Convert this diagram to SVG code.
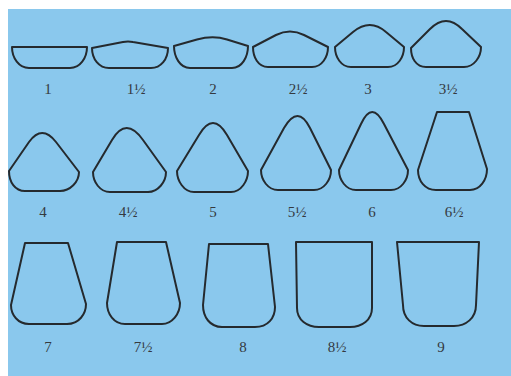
<svg xmlns="http://www.w3.org/2000/svg" width="511" height="376" viewBox="0 0 511 376">
<style>
.sh{fill:none;stroke:#252a2e;stroke-width:2;stroke-linejoin:round}
.lb{font-family:"Liberation Serif","Times New Roman",serif;font-size:15px;fill:#353a3f;text-anchor:middle}
</style>
<rect x="0" y="0" width="511" height="376" fill="#ffffff"/>
<rect x="8" y="9" width="503" height="367" fill="#8ac8ed"/>
<g id="s1"><path class="sh" d="M12,47 L87,47 C87,58 80,68 70,68 L29,68 C19,68 12,58 12,47 Z"/><text class="lb" x="48" y="94">1</text></g>
<g id="s1h"><path class="sh" d="M92,48 L123,42 Q128,41 133,42 L168,48 C168,59 161,68 151,68 L109,68 C99,68 92,59 92,48 Z"/><text class="lb" x="136" y="94">1½</text></g>
<g id="s2"><path class="sh" d="M174,46 L197,39.5 Q213,35 227,39.5 L248,46 C248,57 242,68 232,68 L190,68 C180,68 174,57 174,46 Z"/><text class="lb" x="213" y="94">2</text></g>
<g id="s2h"><path class="sh" d="M253,47 L276,35 Q290,28 304,35 L328,47 C328,57 322,67 312,67 L268,67 C258,67 253,57 253,47 Z"/><text class="lb" x="298" y="94">2½</text></g>
<g id="s3"><path class="sh" d="M335,47 L353,32 Q370,18 386,32 L404,47 C404,57 398,67 388,67 L351,67 C341,67 335,57 335,47 Z"/><text class="lb" x="368" y="94">3</text></g>
<g id="s3h"><path class="sh" d="M411,48 L430,29 Q446,13 462,29 L481,47 C481,57 474,67 464,67 L426,67 C416,67 411,58 411,48 Z"/><text class="lb" x="448" y="94">3½</text></g>
<g id="s4"><path class="sh" d="M9,171 L29,142 Q42,124 56,142 L79,172 C79,182 70,191 60,191 L25,191 C15,191 9,182 9,171 Z"/><text class="lb" x="43" y="217">4</text></g>
<g id="s4h"><path class="sh" d="M93,172 L112,140 Q126,116 143,140 L166,172 C166,182 158,192 148,192 L110,192 C100,192 93,182 93,172 Z"/><text class="lb" x="128" y="217">4½</text></g>
<g id="s5"><path class="sh" d="M177,171 L199,135 Q213,111 227,135 L248,171 C248,181 241,192 231,192 L194,192 C184,192 177,181 177,171 Z"/><text class="lb" x="213" y="217">5</text></g>
<g id="s5h"><path class="sh" d="M261,170 L284,128 Q298,104 310,128 L331,170 C331,180 324,190 314,190 L278,190 C268,190 261,180 261,170 Z"/><text class="lb" x="297" y="217">5½</text></g>
<g id="s6"><path class="sh" d="M339,170 L361,124 Q372,100 384,124 L408,170 C408,180 401,190 391,190 L356,190 C346,190 339,180 339,170 Z"/><text class="lb" x="372" y="217">6</text></g>
<g id="s6h"><path class="sh" d="M418,170 L437,112 L469,112 L487,169 C487,180 480,190 470,190 L436,190 C425,190 418,181 418,170 Z"/><text class="lb" x="454" y="217">6½</text></g>
<g id="s7"><path class="sh" d="M11,305 L25,243 L68,243 L86,304 C86,314 79,324 67,324 L29,324 C18,324 11,315 11,305 Z"/><text class="lb" x="48" y="352">7</text></g>
<g id="s7h"><path class="sh" d="M107,303 L117,242 L166,242 L180,303 C180,314 172,324 162,324 L125,324 C114,324 107,314 107,303 Z"/><text class="lb" x="143" y="352">7½</text></g>
<g id="s8"><path class="sh" d="M203,305 L209,244 L268,244 L275,307 C275,318 268,327 255,327 L222,327 C210,327 203,317 203,305 Z"/><text class="lb" x="243" y="352">8</text></g>
<g id="s8h"><path class="sh" d="M297,308 L296,242 L372,242 L372,308 C372,320 362,327 350,327 L319,327 C307,327 297,320 297,308 Z"/><text class="lb" x="337" y="352">8½</text></g>
<g id="s9"><path class="sh" d="M403,305 L397,242 L479,242 L476,305 C476,318 466,326 454,326 L424,326 C412,326 403,318 403,305 Z"/><text class="lb" x="441" y="352">9</text></g>
</svg>
